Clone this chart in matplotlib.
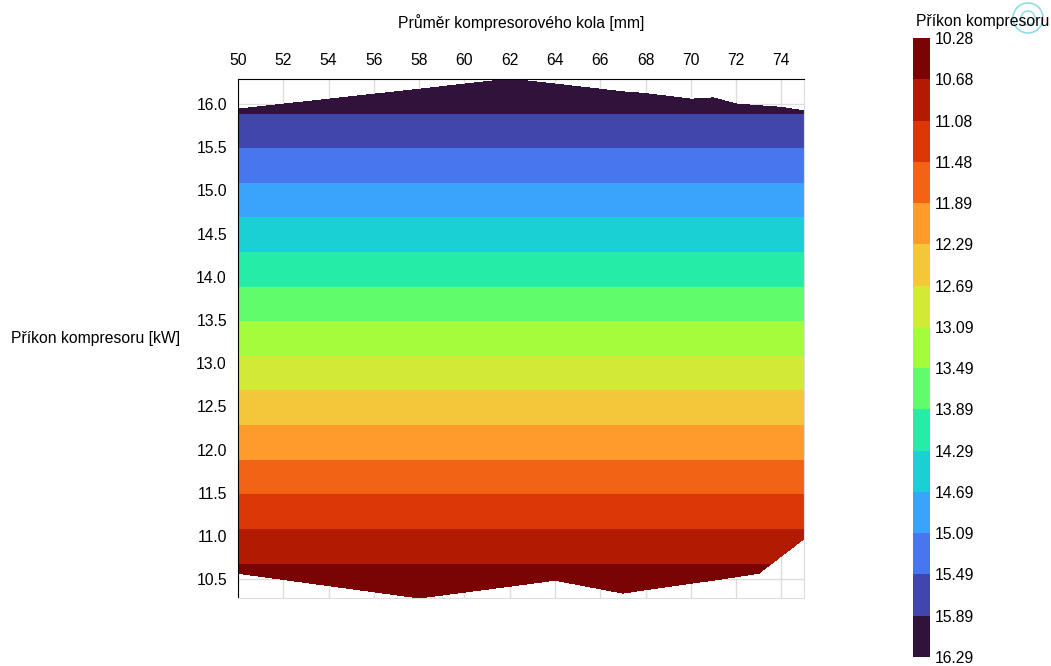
import numpy as np
import matplotlib
matplotlib.use("Agg")
import matplotlib.pyplot as plt
from matplotlib.patches import Circle

plt.rcParams['font.family'] = ['Liberation Sans', 'DejaVu Sans']
plt.rcParams['font.size'] = 11.3

# compressor wheel diameter [mm]
x_diam = [50, 58, 62, 64, 67, 68, 70, 71, 72, 73, 74, 75]
# lower / upper edge of the data region, compressor power [kW]
p_bottom = [10.57, 10.284, 10.42, 10.49, 10.34, 10.38, 10.455, 10.49, 10.53, 10.57, 10.77, 10.97]
p_top = [15.94, 16.17, 16.2885, 16.23, 16.14, 16.12, 16.055, 16.07, 16.0, 15.98, 15.96, 15.92]

x_ticks = list(range(50, 75, 2))
y_ticks = [10.5, 11.0, 11.5, 12.0, 12.5, 13.0, 13.5, 14.0, 14.5, 15.0, 15.5, 16.0]

X = np.vstack([x_diam, x_diam])
Y = np.vstack([p_bottom, p_top])
Z = Y.copy()

p_min = min(p_bottom)
p_max = max(p_top)
levels = np.linspace(p_min, p_max, 16)
band_colors = plt.cm.turbo(np.linspace(1, 0, 15))

fig = plt.figure(figsize=(10.51, 6.66), dpi=100)
ax = fig.add_axes([0.2265, 0.1021, 0.5385, 0.7793])

cs = ax.contourf(X, Y, Z, levels=levels, colors=band_colors)

ax.set_xlim(50, 75)
ax.set_ylim(p_min, p_max)
ax.set_axisbelow(True)
ax.grid(True, color='#dddddd', lw=1)

ax.xaxis.tick_top()
ax.xaxis.set_label_position('top')
ax.set_xticks(x_ticks)
ax.set_yticks(y_ticks)
ax.set_yticklabels([f"{v:.1f}" for v in y_ticks])
ax.tick_params(length=0, pad=8)

ax.set_xlabel("Průměr kompresorového kola [mm]", labelpad=18)
ax.set_ylabel("Příkon kompresoru [kW]", rotation=0, ha='right', va='center')
ax.yaxis.set_label_coords(-0.102, 0.5)

for side in ['left', 'top']:
    ax.spines[side].set_color('black')
for side in ['right', 'bottom']:
    ax.spines[side].set_color('#dddddd')

cax = fig.add_axes([0.869, 0.0135, 0.016, 0.9295])
cb = fig.colorbar(cs, cax=cax)
cb.outline.set_visible(False)
cax.invert_yaxis()
cb.set_ticks(levels)
cb.set_ticklabels([f"{v:.2f}" for v in levels])
cax.tick_params(length=0, pad=3)

fig.text(0.872, 0.967, "Příkon kompresoru", ha='left', va='center')

# small marker icon in the corner
fig.add_artist(Circle((10.28, 6.48), 0.15, transform=fig.dpi_scale_trans,
                      fill=False, ec='#8fdde6', lw=1.2))
fig.add_artist(Circle((10.28, 6.48), 0.07, transform=fig.dpi_scale_trans,
                      fill=False, ec='#8fdde6', lw=1.0))

fig.savefig("out.png", dpi=100)
